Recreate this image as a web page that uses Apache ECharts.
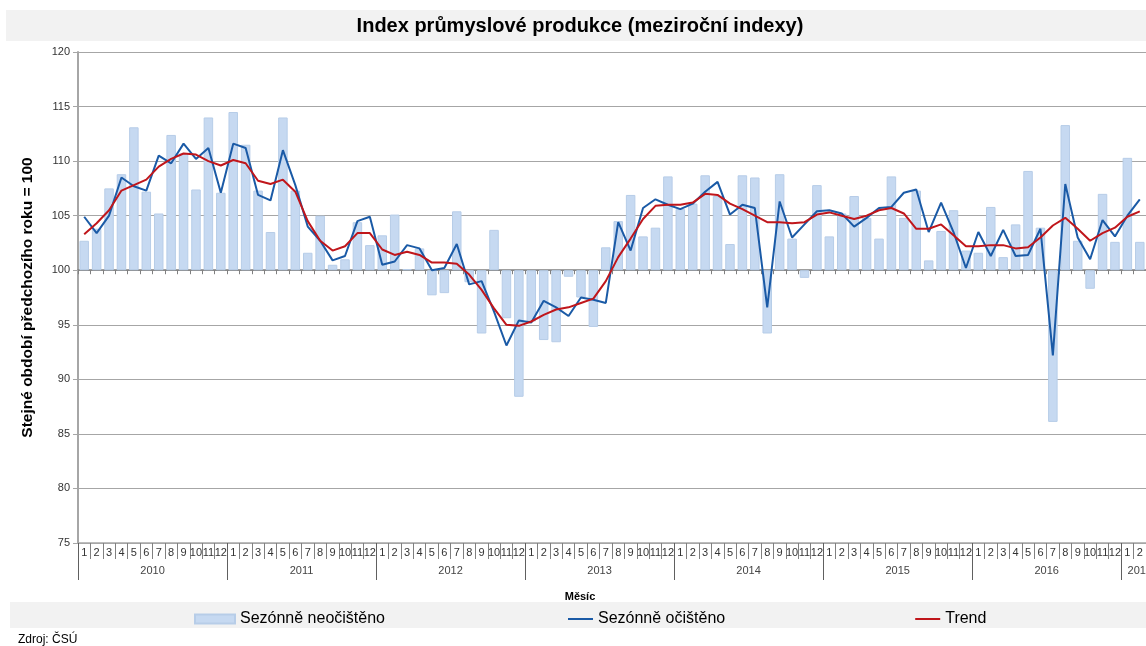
<!DOCTYPE html>
<html>
<head>
<meta charset="utf-8">
<script src="https://cdn.jsdelivr.net/npm/echarts@6/dist/echarts.min.js"></script>
<style>
    html, body { margin: 0; padding: 0; background: #fff; }
    #chart { width: 1146px; height: 646px; }
</style>
</head>
<body>
<div id="chart"></div>
<script>
    // roky na ose, měsíce 1-12 (poslední rok jen leden, únor)
    var yearLabels = ['2010', '2011', '2012', '2013', '2014', '2015', '2016', '2017']
    var monthLabels = ['1', '2', '3', '4', '5', '6', '7', '8', '9', '10', '11', '12']
    var yTicks = [75, 80, 85, 90, 95, 100, 105, 110, 115, 120]

    // Sezónně neočištěno (sloupce)
    var unadjusted = [
        102.7, 103.8, 107.5, 108.8, 113.1, 107.2, 105.2, 112.4, 110.7, 107.4, 114.0, 107.1,
        114.5, 111.5, 107.3, 103.5, 114.0, 107.3, 101.6, 105.0, 100.5, 101.0, 104.4, 102.3,
        103.2, 105.1, 100.1, 102.0, 97.7, 97.9, 105.4, 98.9, 94.2, 103.7, 95.6, 88.4,
        95.3, 93.6, 93.4, 99.4, 97.5, 94.8, 102.1, 104.5, 106.9, 103.1, 103.9, 108.6,
        105.6, 106.1, 108.7, 106.8, 102.4, 108.7, 108.5, 94.2, 108.8, 102.9, 99.3, 107.8,
        103.1, 105.2, 106.8, 104.8, 102.9, 108.6, 104.8, 107.3, 100.9, 103.6, 105.5, 101.8,
        101.6, 105.8, 101.2, 104.2, 109.1, 103.9, 86.1, 113.3, 102.7, 98.3, 107.0, 102.6,
        110.3, 102.6
    ]
    // Sezónně očištěno
    var adjusted = [
        104.9, 103.4, 105.0, 108.5, 107.7, 107.3, 110.5, 109.8, 111.6, 110.2, 111.2, 107.1,
        111.6, 111.2, 106.9, 106.4, 111.0, 107.8, 104.0, 102.7, 100.9, 101.3, 104.5, 104.9,
        100.5, 100.8, 102.3, 102.0, 100.0, 100.2, 102.4, 98.7, 99.0, 96.2, 93.1, 95.4,
        95.2, 97.2, 96.6, 95.8, 97.5, 97.3, 97.0, 104.4, 101.8, 105.7, 106.5, 106.0,
        105.6, 106.1, 107.2, 108.1, 105.1, 106.0, 105.7, 96.6, 106.3, 103.0, 104.2, 105.4,
        105.5, 105.2, 104.0, 104.8, 105.7, 105.8, 107.1, 107.4, 103.5, 106.2, 103.5, 100.2,
        103.5, 101.3, 103.7, 101.3, 101.4, 103.8, 92.2, 107.9, 103.0, 101.0, 104.6, 103.1,
        105.0, 106.5
    ]
    // Trend
    var trend = [
        103.3, 104.3, 105.5, 107.3, 107.8, 108.3, 109.5, 110.2, 110.7, 110.6, 110.0, 109.6,
        110.1, 109.8, 108.2, 107.9, 108.3, 107.2, 104.5, 102.7, 101.8, 102.2, 103.4, 103.4,
        101.9, 101.4, 101.7, 101.4, 100.7, 100.7, 100.6, 99.6, 98.2, 96.5, 95.0, 94.9,
        95.3, 95.9, 96.4, 96.6, 97.0, 97.4, 99.0, 101.2, 102.9, 104.7, 105.9, 106.0,
        106.0, 106.2, 107.0, 106.9, 106.1, 105.6, 105.0, 104.4, 104.4, 104.3, 104.4, 105.1,
        105.3, 105.0, 104.7, 105.0, 105.5, 105.7, 105.2, 103.8, 103.8, 104.2, 103.2, 102.2,
        102.2, 102.3, 102.3, 102.0, 102.1, 103.0, 104.1, 104.8, 103.8, 102.7, 103.4, 103.9,
        104.9, 105.4
    ]

    var months = []
    for (var i = 0; i < unadjusted.length; i++) {
        months.push(monthLabels[i % 12])
    }
    // sloupce rostou od 100, proto kreslíme rozdíl na skryté ose
    var barDelta = unadjusted.map(function (v) { return +(v - 100).toFixed(2) })

    var yearTicks = [], yearLabelPos = []
    for (var k = 0; k < yearLabels.length; k++) {
        yearTicks.push(k * 12)
        yearLabelPos.push(Math.min(k * 12 + 6, unadjusted.length - 0.5))
    }

    var gridColor = '#a6a6a6'
    var font = 'Liberation Sans, Arial, sans-serif'
    var chart = echarts.init(document.getElementById('chart'))
    var option = {
        animation: false,
        textStyle: { fontFamily: font },
        grid: { left: 78, right: 0, top: 52, bottom: 103, containLabel: false, outerBoundsMode: 'none' },
        graphic: [
            { type: 'rect', shape: { x: 6, y: 10, width: 1140, height: 31 }, style: { fill: '#f2f2f2' }, z: -1 },
            { type: 'text', x: 580, y: 26, style: { text: 'Index průmyslové produkce (meziroční indexy)', fontSize: 20, fontWeight: 'bold', fill: '#000', align: 'center', verticalAlign: 'middle', fontFamily: font } },
            { type: 'rect', shape: { x: 10, y: 602, width: 1136, height: 26 }, style: { fill: '#f2f2f2' }, z: -1 },
            { type: 'text', x: 580, y: 597, style: { text: 'Měsíc', fontSize: 11, fontWeight: 'bold', fill: '#000', align: 'center', verticalAlign: 'middle', fontFamily: font } },
            { type: 'text', x: 18, y: 640, style: { text: 'Zdroj: ČSÚ', fontSize: 12, fill: '#000', verticalAlign: 'middle', fontFamily: font } }
        ],
        legend: [
            {
                left: 189, top: 606, itemWidth: 40, itemHeight: 9, icon: 'rect',
                data: ['Sezónně neočištěno'],
                textStyle: { fontSize: 16, color: '#000' }
            },
            {
                left: 563, top: 606, itemWidth: 25, itemHeight: 2, icon: 'rect', itemGap: 190,
                data: ['Sezónně očištěno', 'Trend'],
                textStyle: { fontSize: 16, color: '#000' }
            }
        ],
        xAxis: [
            {
                // osa procházející hodnotou 100
                type: 'category',
                data: months,
                boundaryGap: true,
                axisLine: { onZero: true, onZeroAxisIndex: 1, lineStyle: { color: '#808080', width: 1.5 } },
                axisTick: { show: true, interval: 0, length: 4, lineStyle: { color: '#808080' } },
                axisLabel: { show: false },
                splitLine: { show: false }
            },
            {
                // řádek s čísly měsíců
                type: 'category',
                data: months,
                position: 'bottom',
                boundaryGap: true,
                axisLine: { show: true, lineStyle: { color: gridColor, width: 1.5 } },
                axisTick: { show: true, interval: 0, length: 16, lineStyle: { color: '#808080' } },
                axisLabel: { interval: 0, fontSize: 11, color: '#333', margin: 4 },
                splitLine: { show: false }
            },
            {
                // řádek s roky
                type: 'value',
                min: 0,
                max: unadjusted.length,
                position: 'bottom',
                axisLine: { show: false },
                axisTick: { show: true, customValues: yearTicks, length: 37, lineStyle: { color: '#606060' } },
                axisLabel: {
                    customValues: yearLabelPos, fontSize: 11, color: '#444', margin: 22,
                    formatter: function (v) { return yearLabels[Math.floor(v / 12)] }
                },
                splitLine: { show: false }
            }
        ],
        yAxis: [
            {
                type: 'value',
                min: yTicks[0],
                max: yTicks[yTicks.length - 1],
                interval: 5,
                name: 'Stejné období předchozího roku = 100',
                nameLocation: 'middle',
                nameGap: 42,
                nameTextStyle: { fontSize: 15.5, fontWeight: 'bold', color: '#000' },
                axisLine: { show: true, lineStyle: { color: gridColor, width: 2 } },
                axisTick: { show: true, length: 5, lineStyle: { color: gridColor } },
                axisLabel: { fontSize: 11, color: '#333', margin: 8 },
                splitLine: { show: true, lineStyle: { color: gridColor, width: 1.2 } }
            },
            {
                type: 'value',
                min: yTicks[0] - 100,
                max: yTicks[yTicks.length - 1] - 100,
                show: false,
                splitLine: { show: false }
            }
        ],
        series: [
            {
                name: 'Sezónně neočištěno',
                type: 'bar',
                xAxisIndex: 0,
                yAxisIndex: 1,
                barWidth: 9.5,
                itemStyle: { color: '#c6d9f1', borderColor: '#b7cde8', borderWidth: 1 },
                data: barDelta
            },
            {
                name: 'Sezónně očištěno',
                type: 'line',
                xAxisIndex: 0,
                yAxisIndex: 0,
                symbol: 'none',
                lineStyle: { color: '#1a5aa6', width: 2 },
                itemStyle: { color: '#1a5aa6' },
                data: adjusted
            },
            {
                name: 'Trend',
                type: 'line',
                xAxisIndex: 0,
                yAxisIndex: 0,
                symbol: 'none',
                lineStyle: { color: '#c0161b', width: 2 },
                itemStyle: { color: '#c0161b' },
                data: trend
            }
        ]
    }
    chart.setOption(option)
</script>
</body>
</html>
